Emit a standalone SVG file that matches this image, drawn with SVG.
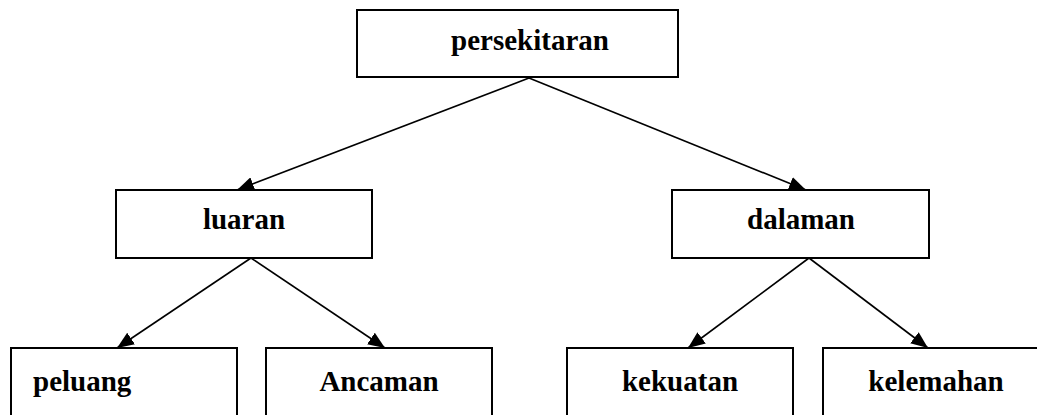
<svg xmlns="http://www.w3.org/2000/svg" width="1037" height="415" viewBox="0 0 1037 415">
<style>
.box{fill:#fff;stroke:#000;stroke-width:2}
.lbl{font-family:"Liberation Serif","Times New Roman",serif;font-weight:bold;font-size:29px;fill:#000}
.c{text-anchor:middle}
.conn{stroke:#000;stroke-width:1.6;fill:none}
</style>
<defs>
<marker id="ah" markerUnits="userSpaceOnUse" markerWidth="18" markerHeight="14" refX="17" refY="7" orient="auto">
<path d="M0,0 L17,7 L0,14 Z" fill="#000"/>
</marker>
</defs>
<rect width="1037" height="415" fill="#fff"/>
<g id="connectors">
<line class="conn" x1="529" y1="78" x2="237" y2="190" marker-end="url(#ah)"/>
<line class="conn" x1="529" y1="78" x2="806" y2="190" marker-end="url(#ah)"/>
<line class="conn" x1="251" y1="258" x2="117" y2="348" marker-end="url(#ah)"/>
<line class="conn" x1="251" y1="258" x2="385" y2="348" marker-end="url(#ah)"/>
<line class="conn" x1="809" y1="258" x2="688" y2="348" marker-end="url(#ah)"/>
<line class="conn" x1="809" y1="258" x2="928" y2="348" marker-end="url(#ah)"/>
</g>
<g id="persekitaran">
<rect class="box" x="357" y="10" width="321" height="67"/>
<text class="lbl c" x="530" y="50">persekitaran</text>
</g>
<g id="luaran">
<rect class="box" x="116" y="190" width="256" height="68"/>
<text class="lbl c" x="244" y="229">luaran</text>
</g>
<g id="dalaman">
<rect class="box" x="672" y="190" width="257" height="68"/>
<text class="lbl c" x="801" y="229">dalaman</text>
</g>
<g id="peluang">
<rect class="box" x="11" y="348" width="226" height="80"/>
<text class="lbl" x="33" y="391">peluang</text>
</g>
<g id="ancaman">
<rect class="box" x="266" y="348" width="226" height="80"/>
<text class="lbl c" x="379" y="391">Ancaman</text>
</g>
<g id="kekuatan">
<rect class="box" x="567" y="348" width="226" height="80"/>
<text class="lbl c" x="680" y="391">kekuatan</text>
</g>
<g id="kelemahan">
<rect class="box" x="823" y="348" width="226" height="80"/>
<text class="lbl c" x="936" y="391">kelemahan</text>
</g>
</svg>
